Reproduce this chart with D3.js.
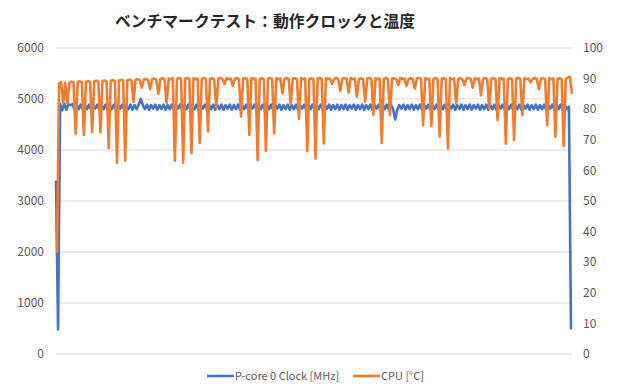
<!DOCTYPE html>
<html>
<head>
<meta charset="utf-8">
<script src="https://cdn.jsdelivr.net/npm/d3@7"></script>
<style>
    body { margin: 0; background: #fff; }
    .canvas text { font-family: "Noto Sans CJK JP", "Noto Sans", sans-serif; }
</style>
</head>
<body>
<div class="canvas"></div>
<script>
var chartTitle = "ベンチマークテスト：動作クロックと温度";
var seriesNames = ["P-core 0 Clock [MHz]", "CPU [°C]"];
var leftTicks = [0, 1000, 2000, 3000, 4000, 5000, 6000];
var rightTicks = [0, 10, 20, 30, 40, 50, 60, 70, 80, 90, 100];

// P-core 0 clock, MHz (one sample per step)
var clockValues = [
    3400, 480, 4900, 4780, 4910, 4790, 4900, 4880, 4900, 4790,
    4890, 4800, 4890, 4790, 4880, 4800, 4890, 4790, 4880, 4810,
    4890, 4790, 4880, 4800, 4890, 4790, 4880, 4800, 4890, 4790,
    4880, 4810, 4890, 4790, 4880, 4800, 4890, 4790, 4880, 4800,
    4890, 5000, 4880, 4800, 4890, 4790, 4880, 4810, 4890, 4790,
    4880, 4800, 4890, 4790, 4880, 4800, 4890, 4790, 4880, 4810,
    4890, 4790, 4880, 4800, 4890, 4790, 4880, 4800, 4890, 4790,
    4880, 4810, 4890, 4790, 4880, 4800, 4890, 4790, 4880, 4800,
    4890, 4790, 4880, 4810, 4890, 4790, 4880, 4800, 4890, 4790,
    4880, 4800, 4890, 4790, 4880, 4810, 4890, 4790, 4880, 4800,
    4890, 4790, 4880, 4800, 4890, 4790, 4880, 4810, 4890, 4790,
    4880, 4800, 4890, 4790, 4880, 4800, 4890, 4790, 4880, 4810,
    4890, 4790, 4880, 4800, 4890, 4790, 4880, 4800, 4890, 4790,
    4880, 4810, 4890, 4790, 4880, 4800, 4890, 4790, 4880, 4800,
    4890, 4790, 4880, 4810, 4890, 4790, 4880, 4800, 4890, 4790,
    4880, 4800, 4890, 4790, 4880, 4810, 4890, 4790, 4880, 4800,
    4890, 4790, 4880, 4800, 4600, 4790, 4880, 4810, 4890, 4790,
    4880, 4800, 4890, 4790, 4880, 4800, 4890, 4790, 4880, 4810,
    4890, 4790, 4880, 4800, 4890, 4790, 4880, 4800, 4890, 4790,
    4880, 4810, 4890, 4790, 4880, 4800, 4890, 4790, 4880, 4800,
    4890, 4790, 4880, 4810, 4890, 4790, 4880, 4800, 4890, 4790,
    4880, 4800, 4890, 4790, 4880, 4810, 4890, 4790, 4880, 4800,
    4890, 4790, 4880, 4800, 4890, 4790, 4880, 4810, 4890, 4790,
    4880, 4800, 4890, 4790, 4880, 4800, 4890, 4790, 4880, 4810,
    4890, 4790, 4880, 4800, 4890, 4790, 4880, 4800, 4850, 480
];

// CPU temperature, deg C
var tempValues = [
    33, 88.5, 88.8, 82, 88.6, 82, 88.7, 89, 88.8, 72,
    88.9, 89.1, 88.8, 71.6, 89, 89.2, 88.9, 72.5, 89.1, 89.3,
    89, 72.4, 89.2, 89.4, 89.1, 67.3, 89.3, 89.5, 89.2, 62.5,
    89.4, 89.6, 89.3, 63.2, 89.5, 89.7, 89.4, 82.4, 89.6, 89.8,
    89.5, 87, 89.7, 89.9, 89.6, 86.5, 89.8, 90, 89.7, 85,
    89.9, 90.1, 89.8, 82, 90, 89.8, 90.1, 63.2, 89.9, 90.2,
    89.8, 62.5, 90, 90.2, 89.9, 65.6, 90.1, 89.8, 90, 69,
    89.9, 90.2, 89.8, 72.7, 90, 90.1, 89.7, 80.5, 90, 90.2,
    89.9, 88.3, 90.1, 89.8, 90, 87.6, 89.9, 90.2, 89.8, 77.6,
    90, 90.1, 89.9, 71.6, 90.2, 89.8, 90, 63.4, 89.9, 90.1,
    89.8, 66.4, 90, 90.2, 89.9, 72.1, 90.1, 89.8, 90, 85.2,
    89.9, 90.2, 89.8, 81.6, 90, 90.1, 89.9, 76.8, 90.2, 89.8,
    90, 66.3, 89.9, 90.1, 89.8, 63.9, 90, 90.2, 89.9, 68.8,
    90.1, 89.8, 90, 88.3, 89.9, 90.2, 89.8, 86, 90, 90.1,
    89.9, 85.4, 90.2, 89.8, 90, 84.1, 89.9, 90.1, 89.8, 82.5,
    90, 90.2, 89.9, 78.1, 90.1, 89.8, 90, 69, 89.9, 90.2,
    89.8, 78.1, 90, 90.1, 89.9, 87.9, 90.2, 89.8, 90, 87.6,
    89.9, 90.1, 89.8, 86.8, 90, 90.2, 89.9, 74.8, 90.1, 89.8,
    90, 74.5, 89.9, 90.2, 89.8, 71, 90, 90.1, 89.9, 67.2,
    90.2, 89.8, 90, 81.9, 89.9, 90.1, 89.8, 87.9, 90, 90.2,
    89.9, 87, 90.1, 89.8, 90, 84.5, 89.9, 90.2, 89.8, 80.2,
    90, 90.1, 89.9, 76.5, 90.2, 89.8, 90, 68.7, 89.9, 90.1,
    89.8, 69.9, 90, 90.2, 89.9, 78.1, 90.1, 89.8, 90, 88.8,
    89.9, 90.2, 89.8, 86.5, 90, 90.1, 89.9, 74.8, 90.2, 89.8,
    90, 71, 89.9, 90.1, 89.8, 68, 90, 90.3, 90.6, 85
];

var colors = ["#4472C4", "#ED7D31"];

function loadGraph() {
    var width = 620, height = 390;
    var plot = { left: 56, right: 572, top: 48, bottom: 354 };

    var svg = d3.select("body").select(".canvas").append("svg")
        .attr("width", width)
        .attr("height", height);

    // set the ranges
    var x = d3.scaleLinear()
        .domain([0, clockValues.length - 1])
        .range([plot.left + 1, plot.right]);
    var yLeft = d3.scaleLinear().domain([0, 6000]).range([plot.bottom, plot.top]);
    var yRight = d3.scaleLinear().domain([0, 100]).range([plot.bottom, plot.top]);

    // gridlines + left labels
    svg.append("g")
        .selectAll("line")
        .data(leftTicks)
        .enter().append("line")
        .attr("x1", plot.left).attr("x2", plot.right)
        .attr("y1", function (d) { return yLeft(d); })
        .attr("y2", function (d) { return yLeft(d); })
        .attr("stroke", "#d9d9d9")
        .attr("stroke-width", 1);

    svg.append("g")
        .selectAll("text")
        .data(leftTicks)
        .enter().append("text")
        .attr("x", 44)
        .attr("y", function (d) { return yLeft(d); })
        .attr("dy", "0.35em")
        .attr("text-anchor", "end")
        .attr("font-size", "12px")
        .attr("fill", "#595959")
        .text(function (d) { return d; });

    svg.append("g")
        .selectAll("text")
        .data(rightTicks)
        .enter().append("text")
        .attr("x", 583)
        .attr("y", function (d) { return yRight(d); })
        .attr("dy", "0.35em")
        .attr("text-anchor", "start")
        .attr("font-size", "12px")
        .attr("fill", "#595959")
        .text(function (d) { return d; });

    var clockLine = d3.line()
        .x(function (d, i) { return x(i) - 1; })
        .y(function (d) { return yLeft(d); });

    var tempLine = d3.line()
        .x(function (d, i) { return x(i); })
        .y(function (d) { return yRight(d); });

    svg.append("path")
        .datum(clockValues)
        .attr("fill", "none")
        .attr("stroke", colors[0])
        .attr("stroke-width", 2.6)
        .attr("stroke-linejoin", "round")
        .attr("d", clockLine);

    svg.append("path")
        .datum(tempValues)
        .attr("fill", "none")
        .attr("stroke", colors[1])
        .attr("stroke-width", 2.6)
        .attr("stroke-linejoin", "round")
        .attr("d", tempLine);

    // title
    svg.append("text")
        .attr("x", 265)
        .attr("y", 27)
        .attr("text-anchor", "middle")
        .attr("font-size", "15.8px")
        .attr("font-weight", "bold")
        .attr("fill", "#262626")
        .text(chartTitle);

    // legend
    var legendX = [207, 353];
    var legend = svg.selectAll(".lineLegend").data(seriesNames)
        .enter().append("g")
        .attr("class", "lineLegend")
        .attr("transform", function (d, i) {
            return "translate(" + legendX[i] + ",376)";
        });
    legend.append("line")
        .attr("x1", 0).attr("x2", 27)
        .attr("stroke", function (d, i) { return colors[i]; })
        .attr("stroke-width", 2.6);
    legend.append("text")
        .attr("x", 28)
        .attr("dy", "0.35em")
        .attr("font-size", "11px")
        .attr("fill", "#595959")
        .text(function (d) { return d; });
}

loadGraph();
</script>
</body>
</html>
